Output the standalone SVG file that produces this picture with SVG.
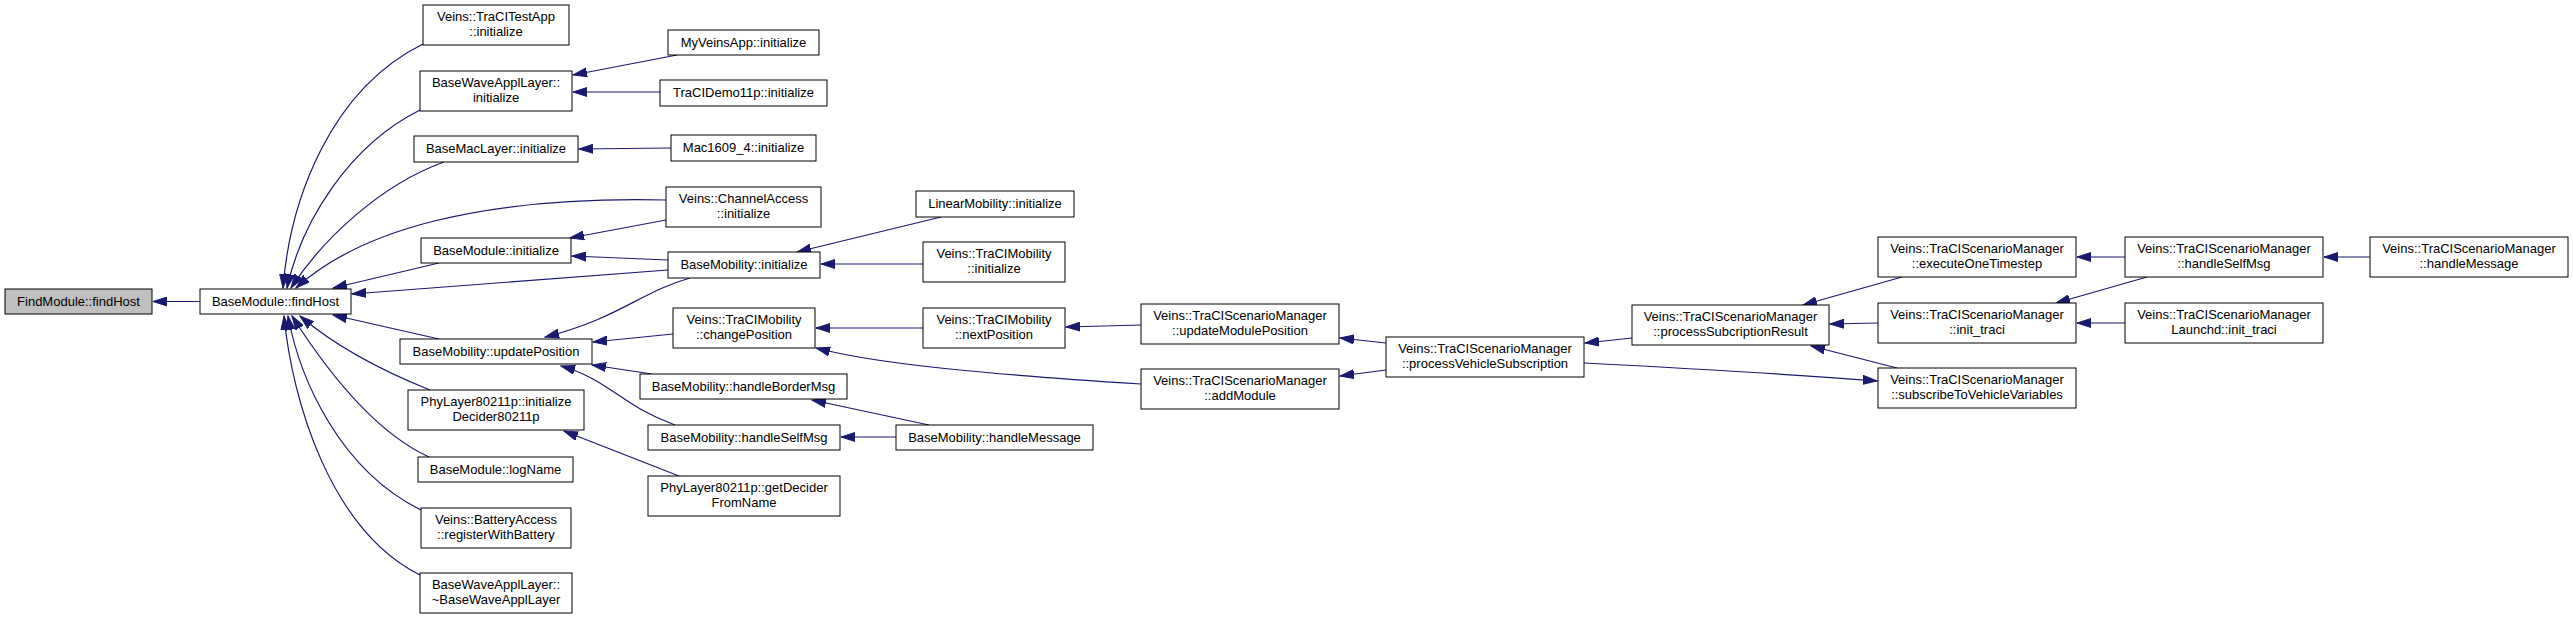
<svg xmlns="http://www.w3.org/2000/svg" width="2573" height="619" viewBox="0 0 2573 619">
<style>
.n rect{fill:#fff;stroke:#000;stroke-width:1}
.g rect{fill:#bfbfbf}
text{font-family:"Liberation Sans",Arial,sans-serif;font-size:13px;fill:#000;text-anchor:middle}
.e path{fill:none;stroke:#191970;stroke-width:1.2;marker-end:url(#ah)}
</style>
<defs>
<marker id="ah" markerUnits="userSpaceOnUse" markerWidth="15" markerHeight="10" refX="14" refY="5" orient="auto" viewBox="0 0 15 10">
<path d="M0,0.5 L14,5 L0,9.5 z" fill="#191970" stroke="#191970" stroke-width="1"/>
</marker>
</defs>
<rect width="2573" height="619" fill="#fff"/>
<g class="e" id="edges">
<path d="M200,301.5 L153,301.5"/>
<path d="M423,44 C330,90 290,200 283,288"/>
<path d="M420,110 C350,145 302,220 287,288"/>
<path d="M444,162 C380,185 322,240 291,288"/>
<path d="M666,200 C480,196 360,230 296,288"/>
<path d="M439,263 L333,288"/>
<path d="M668,270 L352,294"/>
<path d="M439,339 L333,315"/>
<path d="M430,390 C390,374 340,350 300,316"/>
<path d="M429,457 C370,430 320,360 292,316"/>
<path d="M421,510 C340,470 300,380 288,316"/>
<path d="M420,575 C330,530 292,400 284,316"/>
<path d="M677,55 L573,75"/>
<path d="M660,92 L573,92"/>
<path d="M671,148 L579,149"/>
<path d="M666,220 L570,238"/>
<path d="M668,260 L572,256"/>
<path d="M941,217 L797,252"/>
<path d="M923,264 L821,264"/>
<path d="M690,278 C640,292 620,318 545,337"/>
<path d="M673,334 L593,342"/>
<path d="M652,374 L592,365"/>
<path d="M675,425 C620,405 610,380 561,366"/>
<path d="M679,476 L564,431"/>
<path d="M923,328 L816,328"/>
<path d="M1141,384 C1000,375 880,365 816,348"/>
<path d="M929,425 L812,400"/>
<path d="M896,437 L841,437"/>
<path d="M1141,325 L1066,327"/>
<path d="M1386,343 L1340,338"/>
<path d="M1386,370 L1340,376"/>
<path d="M1632,338 L1585,343"/>
<path d="M1584,363 C1700,369 1800,375 1877,381"/>
<path d="M1902,277 L1803,305"/>
<path d="M1878,323 L1830,324"/>
<path d="M1897,368 L1811,346"/>
<path d="M2125,257 L2077,257"/>
<path d="M2147,277 L2056,303"/>
<path d="M2125,323 L2077,323"/>
<path d="M2370,257 L2324,257"/>
</g>
<g id="n0" class="n g"><rect x="5" y="289" width="147" height="25"/><text x="78.5" y="306">FindModule::findHost</text></g>
<g id="n1" class="n"><rect x="200" y="289" width="151" height="25"/><text x="275.5" y="306">BaseModule::findHost</text></g>
<g id="n2" class="n"><rect x="423" y="5" width="146" height="40"/><text x="496" y="21">Veins::TraCITestApp</text><text x="496" y="36">::initialize</text></g>
<g id="n3" class="n"><rect x="420" y="71" width="152" height="40"/><text x="496" y="87">BaseWaveApplLayer::</text><text x="496" y="102">initialize</text></g>
<g id="n4" class="n"><rect x="414" y="136" width="164" height="26"/><text x="496" y="153">BaseMacLayer::initialize</text></g>
<g id="n5" class="n"><rect x="421" y="238" width="150" height="25"/><text x="496" y="255">BaseModule::initialize</text></g>
<g id="n6" class="n"><rect x="400" y="339" width="192" height="25"/><text x="496" y="356">BaseMobility::updatePosition</text></g>
<g id="n7" class="n"><rect x="408" y="390" width="176" height="40"/><text x="496" y="406">PhyLayer80211p::initialize</text><text x="496" y="421">Decider80211p</text></g>
<g id="n8" class="n"><rect x="418" y="457" width="155" height="25"/><text x="495.5" y="474">BaseModule::logName</text></g>
<g id="n9" class="n"><rect x="421" y="508" width="150" height="40"/><text x="496" y="524">Veins::BatteryAccess</text><text x="496" y="539">::registerWithBattery</text></g>
<g id="n10" class="n"><rect x="420" y="573" width="152" height="40"/><text x="496" y="589">BaseWaveApplLayer::</text><text x="496" y="604">~BaseWaveApplLayer</text></g>
<g id="n11" class="n"><rect x="668" y="30" width="151" height="25"/><text x="743.5" y="47">MyVeinsApp::initialize</text></g>
<g id="n12" class="n"><rect x="660" y="80" width="167" height="26"/><text x="743.5" y="97">TraCIDemo11p::initialize</text></g>
<g id="n13" class="n"><rect x="671" y="135" width="145" height="26"/><text x="743.5" y="152">Mac1609_4::initialize</text></g>
<g id="n14" class="n"><rect x="666" y="187" width="155" height="40"/><text x="743.5" y="203">Veins::ChannelAccess</text><text x="743.5" y="218">::initialize</text></g>
<g id="n15" class="n"><rect x="668" y="252" width="152" height="26"/><text x="744" y="269">BaseMobility::initialize</text></g>
<g id="n16" class="n"><rect x="673" y="308" width="142" height="40"/><text x="744" y="324">Veins::TraCIMobility</text><text x="744" y="339">::changePosition</text></g>
<g id="n17" class="n"><rect x="640" y="374" width="207" height="25"/><text x="743.5" y="391">BaseMobility::handleBorderMsg</text></g>
<g id="n18" class="n"><rect x="648" y="425" width="192" height="25"/><text x="744" y="442">BaseMobility::handleSelfMsg</text></g>
<g id="n19" class="n"><rect x="648" y="476" width="192" height="40"/><text x="744" y="492">PhyLayer80211p::getDecider</text><text x="744" y="507">FromName</text></g>
<g id="n20" class="n"><rect x="916" y="191" width="158" height="26"/><text x="995" y="208">LinearMobility::initialize</text></g>
<g id="n21" class="n"><rect x="923" y="242" width="142" height="40"/><text x="994" y="258">Veins::TraCIMobility</text><text x="994" y="273">::initialize</text></g>
<g id="n22" class="n"><rect x="923" y="308" width="142" height="40"/><text x="994" y="324">Veins::TraCIMobility</text><text x="994" y="339">::nextPosition</text></g>
<g id="n23" class="n"><rect x="896" y="425" width="197" height="25"/><text x="994.5" y="442">BaseMobility::handleMessage</text></g>
<g id="n24" class="n"><rect x="1141" y="304" width="198" height="40"/><text x="1240" y="320">Veins::TraCIScenarioManager</text><text x="1240" y="335">::updateModulePosition</text></g>
<g id="n25" class="n"><rect x="1141" y="369" width="198" height="40"/><text x="1240" y="385">Veins::TraCIScenarioManager</text><text x="1240" y="400">::addModule</text></g>
<g id="n26" class="n"><rect x="1386" y="337" width="198" height="40"/><text x="1485" y="353">Veins::TraCIScenarioManager</text><text x="1485" y="368">::processVehicleSubscription</text></g>
<g id="n27" class="n"><rect x="1632" y="305" width="197" height="40"/><text x="1730.5" y="321">Veins::TraCIScenarioManager</text><text x="1730.5" y="336">::processSubcriptionResult</text></g>
<g id="n28" class="n"><rect x="1878" y="237" width="198" height="40"/><text x="1977" y="253">Veins::TraCIScenarioManager</text><text x="1977" y="268">::executeOneTimestep</text></g>
<g id="n29" class="n"><rect x="1878" y="303" width="198" height="40"/><text x="1977" y="319">Veins::TraCIScenarioManager</text><text x="1977" y="334">::init_traci</text></g>
<g id="n30" class="n"><rect x="1878" y="368" width="198" height="40"/><text x="1977" y="384">Veins::TraCIScenarioManager</text><text x="1977" y="399">::subscribeToVehicleVariables</text></g>
<g id="n31" class="n"><rect x="2125" y="237" width="198" height="40"/><text x="2224" y="253">Veins::TraCIScenarioManager</text><text x="2224" y="268">::handleSelfMsg</text></g>
<g id="n32" class="n"><rect x="2125" y="303" width="198" height="40"/><text x="2224" y="319">Veins::TraCIScenarioManager</text><text x="2224" y="334">Launchd::init_traci</text></g>
<g id="n33" class="n"><rect x="2370" y="237" width="198" height="40"/><text x="2469" y="253">Veins::TraCIScenarioManager</text><text x="2469" y="268">::handleMessage</text></g>
</svg>
